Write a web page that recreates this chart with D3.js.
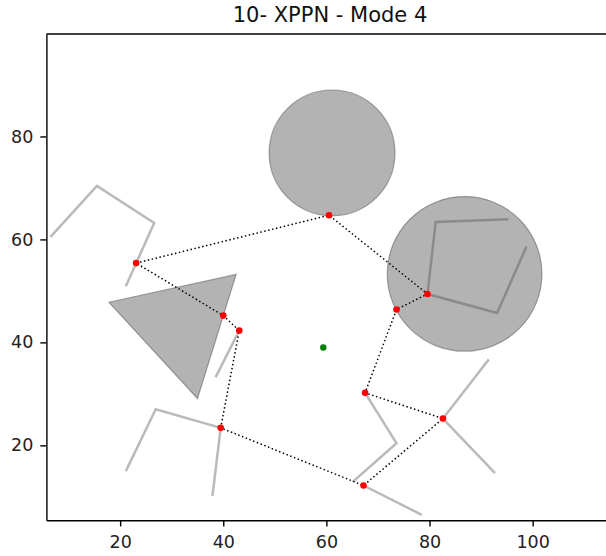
<html>
<head>
<meta charset="utf-8">
<title>10- XPPN - Mode 4</title>
<script src="https://d3js.org/d3.v7.min.js"></script>
<style>
body { margin: 0; background: #fff; }
svg { font-family: "DejaVu Sans", sans-serif; }
</style>
</head>
<body>
<svg width="606" height="556"></svg>
<script>
// obstacles and tour (data units)
var circles = [
    {cx: 61.1, cy: 76.8, r: 12.2},
    {cx: 86.8, cy: 53.3, r: 15.0}
];
var triangle = [[17.8, 47.8], [42.5, 53.2], [35.0, 29.1]];
var polylines = [
    [[6.5, 60.5], [15.5, 70.4], [26.6, 63.2], [21.1, 50.9]],
    [[43.1, 42.3], [38.5, 33.2]],
    [[95.3, 63.9], [81.2, 63.4], [79.6, 49.4], [93.1, 45.7], [98.8, 58.6]],
    [[21.1, 15.0], [26.9, 27.0], [39.5, 23.4], [37.9, 10.2]],
    [[67.5, 30.2], [73.6, 20.4], [65.1, 12.9]],
    [[67.2, 12.2], [78.5, 6.5]],
    [[91.5, 36.7], [82.6, 25.2], [92.7, 14.6]]
];
var tour = [
    [23.1, 55.4], [60.5, 64.7], [79.6, 49.4], [73.6, 46.4], [67.5, 30.2],
    [82.6, 25.2], [67.2, 12.2], [39.5, 23.4], [43.1, 42.3], [40.0, 45.2]
];
var center = [59.4, 39.0];
var xTicks = [20, 40, 60, 80, 100];
var yTicks = [20, 40, 60, 80];

var svg = d3.select("svg"),
    mLeft = 46.4, mTop = 34, mBottom = 520.3, mRight = 610;

var x = d3.scaleLinear().domain([5.7, 115.0]).range([mLeft, mRight]);
var y = d3.scaleLinear().domain([5.44, 99.9]).range([mBottom, mTop]);

var g = svg.append("g");

g.selectAll("circle.obs")
    .data(circles)
    .enter().append("circle")
    .attr("class", "obs")
    .attr("cx", d => x(d.cx))
    .attr("cy", d => y(d.cy))
    .attr("r", d => x(d.cx + d.r) - x(d.cx))
    .attr("fill", "gray").attr("fill-opacity", 0.6)
    .attr("stroke", "#444").attr("stroke-opacity", 0.45).attr("stroke-width", 1.2);

g.append("polygon")
    .attr("points", triangle.map(p => x(p[0]) + "," + y(p[1])).join(" "))
    .attr("fill", "gray").attr("fill-opacity", 0.6)
    .attr("stroke", "#444").attr("stroke-opacity", 0.45).attr("stroke-width", 1.2);

var line = d3.line().x(d => x(d[0])).y(d => y(d[1]));

g.selectAll("path.wall")
    .data(polylines)
    .enter().append("path")
    .attr("class", "wall")
    .attr("d", line)
    .attr("fill", "none")
    .attr("stroke", "#4a4a4a").attr("stroke-opacity", 0.38)
    .attr("stroke-width", 2.5);

g.append("path")
    .attr("d", line(tour.concat([tour[0]])))
    .attr("fill", "none")
    .attr("stroke", "#000")
    .attr("stroke-width", 1.5)
    .attr("stroke-dasharray", "1.5,2.5");

g.selectAll("circle.stop")
    .data(tour)
    .enter().append("circle")
    .attr("class", "stop")
    .attr("cx", d => x(d[0]))
    .attr("cy", d => y(d[1]))
    .attr("r", 3.3)
    .attr("fill", "red");

g.append("circle")
    .attr("cx", x(center[0])).attr("cy", y(center[1]))
    .attr("r", 3.2).attr("fill", "green");

// axes
var ax = svg.append("g")
    .attr("transform", "translate(0," + mBottom + ")")
    .call(d3.axisBottom(x).tickValues(xTicks).tickSize(6.1).tickPadding(9).tickSizeOuter(0));
var ay = svg.append("g")
    .attr("transform", "translate(" + mLeft + ",0)")
    .call(d3.axisLeft(y).tickValues(yTicks).tickSize(6.1).tickPadding(7).tickSizeOuter(0));
[ax, ay].forEach(a => {
    a.attr("font-size", 17.5).attr("font-family", "DejaVu Sans, sans-serif");
    a.selectAll("text").attr("fill", "#222");
    a.selectAll("line, path").attr("stroke", "#000").attr("stroke-width", 1.4);
});

svg.append("line")
    .attr("x1", mLeft).attr("x2", mRight).attr("y1", mTop).attr("y2", mTop)
    .attr("stroke", "#000").attr("stroke-width", 1.4);

svg.append("text")
    .attr("x", 330)
    .attr("y", 22)
    .attr("text-anchor", "middle")
    .attr("fill", "#111")
    .style("font-size", "21px")
    .text("10- XPPN - Mode 4");
</script>
</body>
</html>
